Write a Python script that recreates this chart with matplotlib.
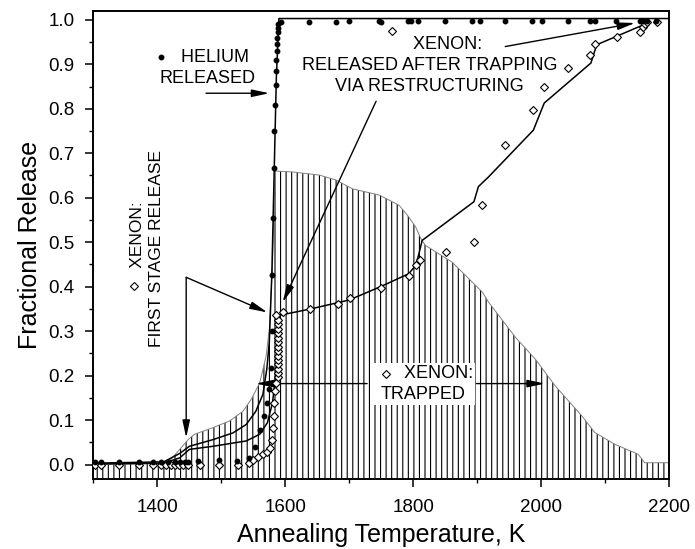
import matplotlib
matplotlib.use("Agg")
import matplotlib.pyplot as plt
from matplotlib.ticker import MultipleLocator, FormatStrFormatter

plt.rcParams['font.family'] = ['Liberation Sans', 'DejaVu Sans']
plt.rcParams['hatch.linewidth'] = 0.8

# helium released (filled dots)
he_T = [1302, 1312, 1340, 1371, 1393, 1406, 1417, 1427, 1436, 1443, 1448,
        1463, 1496, 1524, 1543, 1553, 1560, 1567, 1571, 1575, 1578, 1579,
        1579, 1581, 1582, 1583, 1584, 1585, 1586, 1586, 1587, 1587, 1587,
        1588, 1588, 1589, 1593, 1637, 1679, 1699, 1747, 1749, 1792, 1796,
        1808, 1849, 1892, 1905, 1944, 1986, 2001, 2042, 2077, 2084, 2117,
        2155, 2160, 2165, 2179]
he_y = [0.005, 0.005, 0.005, 0.005, 0.005, 0.005, 0.005, 0.005, 0.005, 0.005, 0.005,
        0.008, 0.010, 0.008, 0.015, 0.040, 0.077, 0.110, 0.138, 0.169, 0.216, 0.301,
        0.427, 0.555, 0.666, 0.749, 0.809, 0.853, 0.886, 0.910, 0.930, 0.945, 0.960,
        0.972, 0.982, 0.990, 0.995, 0.995, 0.995, 0.997, 0.997, 0.995, 0.997, 0.997,
        0.997, 0.997, 0.997, 0.997, 0.997, 0.997, 0.997, 0.997, 0.997, 0.997, 0.997,
        0.997, 0.997, 0.997, 0.997]

# helium fit
he_fit_T = [1300, 1410, 1435, 1450, 1487, 1518, 1539, 1554, 1565, 1571, 1575,
            1579, 1582, 1586, 1590, 2200]
he_fit_y = [0.003, 0.006, 0.025, 0.041, 0.056, 0.071, 0.090, 0.120, 0.158, 0.214,
            0.275, 0.430, 0.620, 0.870, 1.003, 1.003]

# xenon released (open diamonds)
xe_T = [1302, 1311, 1340, 1371, 1393, 1406, 1414, 1421, 1427, 1433, 1440, 1448,
        1466, 1497, 1526, 1543, 1550, 1558, 1565, 1571, 1576, 1579, 1580, 1582,
        1583, 1584, 1586, 1589, 1589, 1589, 1589, 1589, 1589, 1589, 1589, 1589,
        1589, 1589, 1589, 1589, 1589, 1586, 1596, 1639, 1682, 1701, 1749, 1793,
        1804, 1810, 1851, 1895, 1907, 1944, 1988, 2004, 2042, 2077, 2084, 2118,
        2155, 2160, 2163, 2165, 2182]
xe_y = [0.0, 0.0, 0.0, 0.0, 0.0, 0.0, 0.0, 0.0, 0.0, 0.0, 0.0, 0.0,
        0.0, -0.002, -0.002, 0.004, 0.011, 0.017, 0.023, 0.028, 0.038, 0.056, 0.083, 0.109,
        0.139, 0.165, 0.184, 0.196, 0.205, 0.215, 0.225, 0.235, 0.245, 0.255, 0.265, 0.275,
        0.285, 0.295, 0.305, 0.315, 0.325, 0.336, 0.342, 0.350, 0.360, 0.374, 0.398, 0.425,
        0.448, 0.460, 0.479, 0.500, 0.583, 0.718, 0.797, 0.848, 0.891, 0.920, 0.946, 0.961,
        0.972, 0.985, 0.990, 0.995, 0.995]

# xenon fit
xe_fit_T = [1300, 1410, 1435, 1450, 1487, 1539, 1560, 1572, 1580, 1586, 1588, 1589,
            1640, 1700, 1749, 1793, 1804, 1809, 1814, 1895, 1902, 1918, 1988, 2005,
            2078, 2087, 2162, 2166]
xe_fit_y = [0.001, 0.003, 0.015, 0.034, 0.041, 0.053, 0.068, 0.094, 0.139, 0.214, 0.305, 0.335,
            0.350, 0.370, 0.400, 0.429, 0.448, 0.474, 0.504, 0.591, 0.625, 0.647, 0.752, 0.813,
            0.903, 0.944, 0.990, 1.000]

# xenon trapped (hatched area)
trap_T = [1300, 1400, 1420, 1435, 1448, 1458, 1487, 1513, 1534, 1547, 1560, 1570, 1575,
          1580, 1584, 1611, 1653, 1679, 1705, 1747, 1778, 1793, 1804, 1812, 1819, 1840,
          1861, 1887, 1908, 1918, 1960, 1991, 2022, 2064, 2084, 2116, 2152, 2162, 2200]
trap_y = [0.0, 0.002, 0.010, 0.034, 0.056, 0.068, 0.083, 0.098, 0.120, 0.147, 0.184, 0.244, 0.305,
          0.450, 0.660, 0.658, 0.651, 0.640, 0.620, 0.606, 0.583, 0.557, 0.534, 0.508, 0.493, 0.474,
          0.455, 0.418, 0.388, 0.365, 0.286, 0.237, 0.177, 0.109, 0.072, 0.045, 0.023, 0.004, 0.004]

YMIN, YMAX = -0.0326, 1.020

fig = plt.figure(figsize=(6.95, 5.49), dpi=100)
ax = fig.add_axes([0.1345, 0.1275, 0.828, 0.8525])

ax.fill_between(trap_T, YMIN, trap_y, facecolor='none', edgecolor='black',
                hatch='|||', linewidth=0, zorder=1)
ax.plot(trap_T, trap_y, color='#808080', lw=0.7, zorder=2)

ax.plot(he_fit_T, he_fit_y, color='black', lw=1.1, zorder=3)
ax.plot(xe_fit_T, xe_fit_y, color='black', lw=1.1, zorder=3)
ax.plot(he_T, he_y, 'o', color='black', ms=3.2, zorder=5)
ax.plot(xe_T, xe_y, 'D', mfc='white', mec='black', mew=0.8, ms=4.3, zorder=4)

arr = dict(arrowstyle='-|>,head_length=0.7,head_width=0.15', color='black',
           lw=1.0, mutation_scale=15, shrinkA=0, shrinkB=0)
fs = 13
ls = 1.3

# helium label
ax.plot([1406], [0.916], 'o', color='black', ms=3.2)
ax.text(1478, 0.892, '   HELIUM\nRELEASED', ha='center', va='center',
        fontsize=fs, linespacing=ls)
ax.annotate('', xy=(1575, 0.835), xytext=(1476, 0.835), arrowprops=arr)

# xenon released after trapping
ax.plot([1767], [0.975], 'D', mfc='white', mec='black', mew=0.8, ms=4.3)
ax.text(1826, 0.898, '       XENON:\nRELEASED AFTER TRAPPING\nVIA RESTRUCTURING',
        ha='center', va='center', fontsize=fs, linespacing=ls)
ax.annotate('', xy=(2147, 0.993), xytext=(1944, 0.94), arrowprops=arr)
ax.annotate('', xy=(1596, 0.365), xytext=(1742, 0.817), arrowprops=arr)

# xenon first stage release
ax.plot([1363], [0.401], 'D', mfc='white', mec='black', mew=0.8, ms=4.3)
ax.text(1384, 0.485, '      XENON:\nFIRST STAGE RELEASE', rotation=90,
        ha='center', va='center', fontsize=12.5, linespacing=ls)
ax.annotate('', xy=(1445, 0.06), xytext=(1445, 0.421), arrowprops=arr)
ax.annotate('', xy=(1572, 0.342), xytext=(1445, 0.421), arrowprops=arr)

# xenon trapped
ax.text(1816, 0.181, '      XENON:\nTRAPPED', ha='center', va='center',
        fontsize=fs, linespacing=ls, zorder=6,
        bbox=dict(facecolor='white', edgecolor='none', pad=1.5))
ax.plot([1757], [0.203], 'D', mfc='white', mec='black', mew=0.8, ms=4.3, zorder=7)
ax.annotate('', xy=(1554, 0.182), xytext=(1728, 0.182), arrowprops=arr)
ax.annotate('', xy=(2006, 0.182), xytext=(1899, 0.182), arrowprops=arr)

ax.set_xlim(1300, 2200)
ax.set_ylim(YMIN, YMAX)
ax.xaxis.set_major_locator(MultipleLocator(200))
ax.xaxis.set_minor_locator(MultipleLocator(100))
ax.yaxis.set_major_locator(MultipleLocator(0.1))
ax.yaxis.set_minor_locator(MultipleLocator(0.05))
ax.yaxis.set_major_formatter(FormatStrFormatter('%.1f'))
ax.tick_params(which='major', direction='out', length=5.5, width=1.1,
               labelsize=13.5, pad=8)
ax.tick_params(axis='x', which='major', pad=9)
ax.tick_params(which='minor', direction='out', length=3, width=1.0)
for s in ax.spines.values():
    s.set_linewidth(1.4)

ax.set_xlabel('Annealing Temperature, K', fontsize=18, labelpad=5)
ax.set_ylabel('Fractional Release', fontsize=18, labelpad=5)

fig.savefig('out.png', dpi=100)
